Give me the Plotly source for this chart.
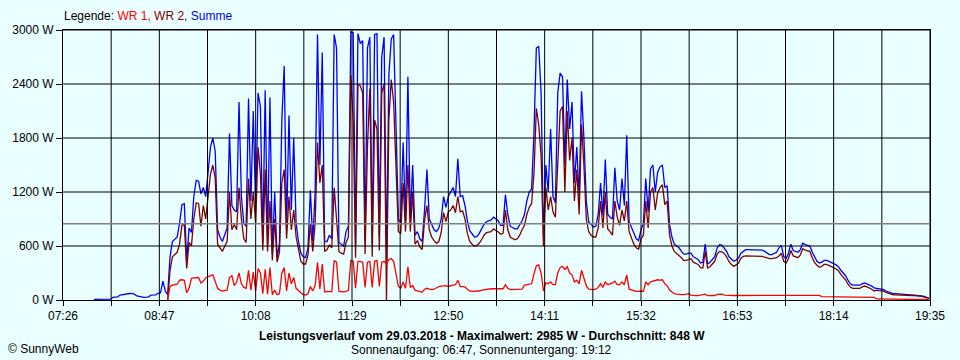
import plotly.graph_objects as go
import pandas as pd

# ---------------- data (2-minute samples from 07:26) ----------------
DAY = "2018-03-29"
START_TIME = "07:26"
SAMPLE_MINUTES = 2
MAX_W = 2985
AVERAGE_W = 848
SUNRISE = "06:47"
SUNSET = "19:12"

X_TICK_LABELS = ["07:26", "08:47", "10:08", "11:29", "12:50", "14:11", "15:32", "16:53", "18:14", "19:35"]
Y_TICK_VALUES = [0, 600, 1200, 1800, 2400, 3000]
Y_TICK_LABELS = ["0 W", "600 W", "1200 W", "1800 W", "2400 W", "3000 W"]

N = None
SUMME = [
    N, N, N, N, N, N, N, N, N, N, N, N, N,          # i0-12
    8, 8, 8, 8, 8, 8, 8, 10,                        # i13-20
    30, 30, 35, 55, 60, 70, 70, 72, 70, 65,         # i21-30
    45, 40, 30, 30, 32, 35, 55, 55, 58, 75,         # i31-40
    80, 210, 100, 60, 480, 650, 680, 700, 850, 1060,
    1070, 430, 800, 750, 1150, 1330, 1320, 1180, 1250, 1150,
    1420, 1700, 1800, 1650, 780, 700, 650, 720, 800, 1850,
    1050, 1000, 980, 2200, 1150, 850, 820, 2240, 1100, 2100,
    1000, 2300, 2150, 640, 2330, 620, 2250, 520, 1200, 480,
    620, 2000, 2600, 800, 2050, 1000, 1800, 850, 650, 520,
    480, 470, 580, 1220, 650, 1200, 2950, 1500, 2750, 650,
    650, 720, 680, 2950, 2800, 640, 620, 600, 760, 820,
    2980, 2970, 600, 2960, 2850, 2880, 650, 2800, 2920, 620,
    2950, 2960, 700, 2700, 2920, 420, 2500, 2900, 2950, 1900,
    900, 860, 1750, 880, 2480, 900, 1500, 720, 760, 680,
    650, 1000, 1450, 900, 830, 780, 760, 800, 900, 1150,
    1030, 1150, 1200, 1250, 1150, 1570, 1150, 1160, 1050, 880,
    770, 730, 700, 705, 740, 790, 840, 870, 880, 890,
    920, 900, 880, 830, 830, 1170, 950, 820, 800, 790,
    790, 830, 880, 950, 1100, 1200, 1230, 1850, 2800, 2820,
    2300, 700, 1500, 1200, 1900, 1150, 1080, 2300, 2520, 2480,
    1500, 2450, 1900, 2200, 1300, 1700, 1150, 2320, 1800, 1100,
    870, 840, 810, 820, 950, 1300, 940, 1560, 950, 920,
    900, 1470, 1100, 1000, 1350, 1050, 1830, 870, 800, 730,
    680, 660, 780, 850, 1350, 980, 1460, 1500, 1200, 1420,
    1480, 1500, 1250, 1270, 840, 700, 620, 600, 580, 540,
    510, 510, 520, 520, 480, 467, 450, 411, 420, 622,
    400, 420, 450, 480, 578, 615, 610, 578, 540, 480,
    450, 430, 445, 467, 520, 545, 559, 560, 560, 560,
    560, 560, 560, 555, 540, 520, 505, 505, 520, 530,
    580, 607, 485, 460, 520, 620, 550, 540, 530, 560,
    630, 615, 610, 600, 530, 470, 430, 410, 420, 440,
    440, 430, 420, 405, 390, 370, 330, 300, 270, 220,
    180, 165, 165, 165, 165, 180, 190, 180, 170, 155,
    135, 130, 122, 120, 115, 100, 90, 78, 70, 70,
    68, 66, 60, 60, 60, 56, 56, 56, 55, 48,
    45, 40, 30, 22,
]

WR1 = [
    N, N, N, N, N, N, N, N, N, N, N, N, N, N, N, N, N, N, N, N, N, N,
    N, N, N, N, N, N, N, N, N, N, N, N, N, N, N, N, N, N, N, N, N, N,  # i0-43
    0,                                              # i44
    150, 165, 170, 175, 220, 225,                   # i45-50
    220, 80, 130, 240, 245, 250, 250, 190, 210, 245,
    260, 270, 280, 200, 130, 110, 100, 105, 110, 250,
    270, 160, 200, 300, 180, 140, 130, 330, 110, 310,
    100, 350, 300, 70, 340, 65, 360, 60, 110, 60,
    70, 300, 360, 100, 300, 180, 250, 130, 100, 80,
    60, 55, 70, 150, 100, 160, 420, 120, 400, 90,
    95, 95, 90, 440, 420, 95, 90, 90, 95, 110,
    440, 430, 130, 430, 430, 420, 140, 420, 430, 140,
    430, 440, 150, 420, 430, 400, 450, 460, 430, 300,
    150, 130, 200, 130, 370, 140, 160, 110, 100, 95,
    85, 120, 130, 120, 115, 120, 140, 150, 155, 160,
    160, 150, 160, 165, 170, 220, 150, 150, 145, 120,
    100, 95, 95, 95, 100, 110, 115, 120, 125, 125,
    125, 125, 125, 130, 125, 170, 130, 115, 115, 115,
    115, 115, 120, 165, 170, 170, 180, 290, 380, 390,
    300, 100, 190, 180, 200, 170, 170, 300, 360, 375,
    340, 370, 300, 280, 200, 220, 180, 330, 250, 160,
    120, 115, 115, 120, 140, 180, 140, 200, 170, 180,
    190, 210, 170, 170, 200, 170, 280, 120, 110, 100,
    95, 95, 100, 96, 200, 170, 200, 210, 220, 225,
    220, 225, 180, 160, 110, 90, 70, 65, 60, 60,
    60, 62, 70, 55, 48, 48, 48, 55, 60, 65,
    48, 48, 48, 50, 62, 67, 65, 55, 52, 52,
    50, 50, 50, 50, 50, 50, 50, 50, 50, 52,
    50, 50, 50, 50, 50, 50, 48, 48, 48, 48,
    48, 48, 48, 48, 52, 52, 52, 52, 52, 52,
    52, 52, 52, 52, 52, 52, 52, 52, 38, 38,
    38, 38, 38, 38, 38, 38, 38, 38, 38, 38,
    30, 30, 30, 30, 30, 30, 30, 30, 30, 30,
    30, 12, 12, 12, 12, 12, 12, 12, 12, 12,
    12, 12, 12, 12, 12, 12, 4, 4, 4, 4,
    4, 4, 4, 4,
]

WR2 = [
    N, N, N, N, N, N, N, N, N, N, N, N, N, N, N, N, N, N, N, N, N, N,
    N, N, N, N, N, N, N, N, N, N, N, N, N, N, N, N, N, N, N, N, N, N,  # i0-43
    0,                                              # i44
    330, 480, 510, 530, 620, 830,                   # i45-50
    840, 350, 640, 600, 900, 1080, 1070, 820, 1050, 900,
    1150, 1400, 1500, 1350, 620, 580, 540, 600, 650, 1200,
    780, 840, 780, 1250, 900, 680, 640, 1350, 900, 1200,
    850, 1700, 1400, 550, 1450, 540, 1100, 440, 900, 420,
    530, 1300, 1450, 680, 1150, 780, 1000, 700, 560, 430,
    400, 400, 500, 850, 540, 850, 1750, 1300, 1500, 540,
    560, 610, 580, 1250, 900, 540, 520, 510, 640, 700,
    2500, 2000, 470, 2400, 2380, 2300, 510, 1700, 2350, 480,
    2000, 1900, 550, 2300, 2400, 0, 2000, 2450, 2200, 1500,
    760, 740, 1300, 760, 1500, 760, 1200, 620, 660, 590,
    560, 880, 1050, 780, 700, 660, 630, 650, 750, 970,
    870, 980, 1000, 1050, 970, 1150, 980, 990, 900, 740,
    650, 620, 600, 605, 630, 670, 720, 750, 755, 760,
    790, 775, 755, 730, 740, 1000, 780, 700, 680, 670,
    680, 720, 780, 830, 950, 1030, 1070, 1400, 2130, 1950,
    1600, 600, 1250, 1000, 1150, 980, 920, 1600, 2100, 2150,
    1200, 2100, 1550, 1800, 1100, 1450, 950, 1950, 1500, 900,
    760, 720, 700, 700, 800, 1100, 800, 1200, 790, 760,
    720, 1100, 920, 830, 1000, 880, 1100, 760, 690, 620,
    580, 565, 680, 720, 1100, 800, 1200, 1250, 1000, 1190,
    1250, 1280, 1060, 1100, 720, 600, 540, 520, 500, 470,
    440, 440, 450, 460, 420, 410, 395, 360, 355, 540,
    355, 370, 400, 430, 510, 540, 535, 515, 480, 425,
    395, 374, 390, 410, 465, 485, 490, 490, 492, 492,
    492, 492, 492, 485, 475, 465, 460, 460, 465, 470,
    490, 520, 430, 410, 460, 550, 490, 480, 470, 500,
    570, 555, 550, 540, 470, 415, 385, 365, 375, 395,
    395, 385, 375, 360, 345, 325, 285, 255, 225, 175,
    145, 130, 130, 130, 130, 145, 155, 145, 135, 120,
    100, 110, 105, 102, 98, 85, 75, 65, 58, 58,
    56, 54, 50, 50, 50, 48, 50, 50, 50, 43,
    40, 35, 26, 18,
]

# ---------------- figure ----------------
BG = "#EAFFFF"
FONT = "Liberation Sans, Arial, sans-serif"

t0 = pd.Timestamp(f"{DAY} {START_TIME}")


def times_for(values):
    return pd.date_range(t0, periods=len(values), freq=f"{SAMPLE_MINUTES}min")


t_end = pd.Timestamp(f"{DAY} {X_TICK_LABELS[-1]}")
n_grid = 2 * (len(X_TICK_LABELS) - 1)
grid_step = (t_end - t0) / n_grid
grid_x = [t0 + k * grid_step for k in range(n_grid + 1)]
grid_text = [X_TICK_LABELS[k // 2] if k % 2 == 0 else "" for k in range(n_grid + 1)]

fig = go.Figure()
for name, vals, color in [("Summe", SUMME, "#0000FF"),
                          ("WR 2", WR2, "#800000"),
                          ("WR 1", WR1, "#FF0000")]:
    fig.add_trace(go.Scatter(
        x=times_for(vals), y=vals, mode="lines", name=name,
        line=dict(color=color, width=1.3, shape="linear"),
        connectgaps=False, hoverinfo="skip",
    ))

shapes = []
for gx in grid_x[1:]:
    shapes.append(dict(type="line", xref="x", yref="paper", x0=gx, x1=gx, y0=0, y1=1,
                       line=dict(color="black", width=1), layer="above"))
for gy in Y_TICK_VALUES[1:]:
    shapes.append(dict(type="line", xref="paper", yref="y", x0=0, x1=1, y0=gy, y1=gy,
                       line=dict(color="black", width=1), layer="above"))
shapes.append(dict(type="line", xref="paper", yref="y", x0=0, x1=1, y0=AVERAGE_W, y1=AVERAGE_W,
                   line=dict(color="#808080", width=1.5), layer="above"))

# plot area is x 60..930, y 30..300 px
def px(xp):
    return (xp - 60) / 870.0


def py(yp):
    return (300 - yp) / 270.0


annotations = [
    dict(xref="paper", yref="paper", x=px(60), y=py(16.5), xanchor="left", yanchor="middle",
         showarrow=False, borderpad=0, font=dict(size=12, color="black", family=FONT),
         text='Legende: <span style="color:#FF0000">WR 1,</span> '
              '<span style="color:#800000">WR 2,</span> '
              '<span style="color:#0000FF">Summe</span>'),
    dict(xref="paper", yref="paper", x=px(480), y=py(336), xanchor="center", yanchor="middle",
         showarrow=False, borderpad=0, font=dict(size=12, color="black", family=FONT),
         text=f"<b>Leistungsverlauf vom {pd.Timestamp(DAY).strftime('%d.%m.%Y')} - "
              f"Maximalwert: {MAX_W} W - Durchschnitt: {AVERAGE_W} W</b>"),
    dict(xref="paper", yref="paper", x=px(480), y=py(350), xanchor="center", yanchor="middle",
         showarrow=False, borderpad=0, font=dict(size=12, color="black", family=FONT),
         text=f"Sonnenaufgang: {SUNRISE}, Sonnenuntergang: {SUNSET}"),
    dict(xref="paper", yref="paper", x=px(4), y=py(349), xanchor="left", yanchor="middle",
         showarrow=False, borderpad=0, font=dict(size=12, color="black", family=FONT),
         text="© SunnyWeb"),
]

fig.update_layout(
    width=960, height=360,
    margin=dict(l=60, r=30, t=30, b=60, pad=0),
    paper_bgcolor=BG, plot_bgcolor=BG,
    showlegend=False,
    font=dict(family=FONT, size=12, color="black"),
    shapes=shapes, annotations=annotations,
    xaxis=dict(type="date", range=[t0, t_end], tickvals=grid_x, ticktext=grid_text,
               ticks="outside", ticklen=5, tickcolor="black", tickwidth=1,
               showgrid=False, zeroline=False, showline=True, linecolor="black", linewidth=1,
               mirror=True, layer="above traces", tickfont=dict(size=12, family=FONT)),
    yaxis=dict(range=[0, 3000], tickvals=Y_TICK_VALUES, ticktext=Y_TICK_LABELS,
               ticks="outside", ticklen=6, tickcolor="black", tickwidth=1,
               showgrid=False, zeroline=False, showline=True, linecolor="black", linewidth=1,
               mirror=True, layer="above traces", tickfont=dict(size=12, family=FONT)),
)

fig.write_html(
    "out.html",
    config={"displayModeBar": False, "staticPlot": True},
    post_script="document.body.style.margin='0';document.body.style.padding='0';"
                "document.body.style.background='" + BG + "';",
)
